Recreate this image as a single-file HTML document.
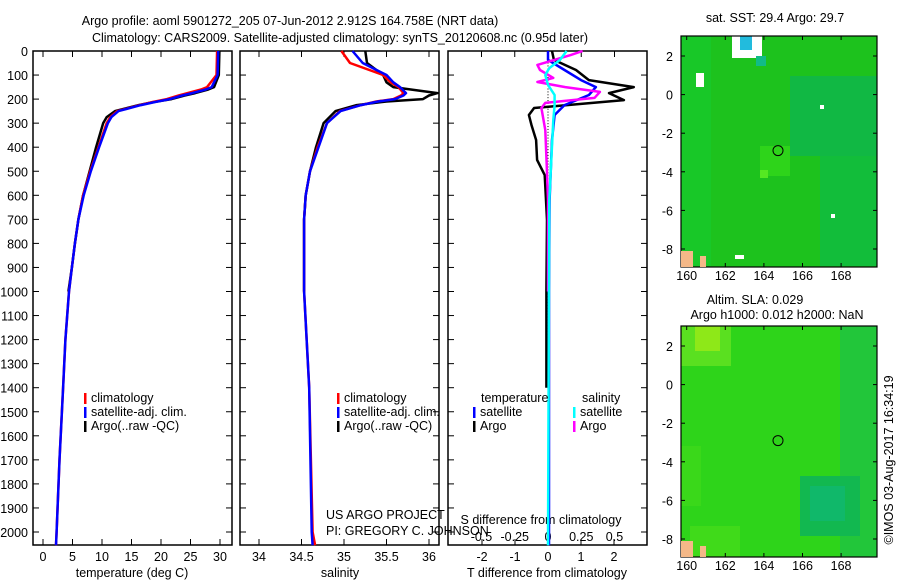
<!DOCTYPE html>
<html><head><meta charset="utf-8">
<style>
html,body{margin:0;padding:0;background:#fff;}
svg{display:block;font-family:"Liberation Sans",sans-serif;}
text{font-size:12.5px;fill:#000;}
</style></head>
<body>
<svg id="fig" width="900" height="580" viewBox="0 0 900 580"></svg>
<script>
// ---- data ----
const tDepth=[0,100,150,160,175,185,200,212,225,250,275,300,400,500,600,700,800,900,1000,1200,1400,1700,2000,2055];
const tClim=[29.5,29.4,27.8,26.8,24.5,23.0,21,18.6,16.4,12.6,11.4,10.8,9.4,8.0,6.8,6.0,5.4,4.9,4.4,3.8,3.4,2.8,2.3,2.2];
const tSat=[29.7,29.6,28.6,27.6,25.3,23.6,21.5,19.0,16.6,12.8,11.6,11.0,9.5,8.1,6.9,6.0,5.4,4.9,4.4,3.8,3.4,2.8,2.3,2.2];
const tArgo=[29.9,29.8,29.0,28.0,25.8,24.0,21.8,18.8,16.2,12.2,10.8,10.2,9.0,7.9,6.8,6.0,5.4,4.9,4.3];
const sDepth=[0,50,100,130,150,175,185,200,210,225,250,300,400,500,600,700,1000,1400,2000,2055];
const sClim=[34.97,35.07,35.46,35.55,35.64,35.7,35.67,35.58,35.38,35.2,34.95,34.8,34.69,34.6,34.55,34.53,34.53,34.59,34.63,34.66];
const sSat=[35.1,35.22,35.5,35.58,35.66,35.73,35.7,35.6,35.4,35.2,34.96,34.8,34.7,34.6,34.55,34.53,34.53,34.59,34.62,34.63];
const sArgo=[35.25,35.27,35.46,35.5,35.58,36.1,36.0,35.93,35.5,35.15,34.9,34.76,34.67,34.6,34.55,34.53,34.53];
const dDepthTA=[0,37,79,121,150,175,204,237,266,308,370,453,516,620,703,1000,1400];
const dTArgo=[0.12,0.18,0.85,1.24,2.6,1.85,2.3,-0.42,-0.58,-0.5,-0.36,-0.33,-0.1,-0.06,-0.03,-0.05,-0.05];
const dDepthTS=[0,37,79,121,150,183,225,266,370,620,1000,2055];
const dTSat=[0,0,0.5,1.0,1.45,1.24,0.5,0.2,0.12,0.05,0.03,0.03];
const dDepthSA=[0,17,58,79,112,129,150,170,195,216,237,329,474,620,1000];
const dSArgo=[0.26,0.17,-0.08,-0.06,0.04,-0.08,0.13,0.39,0.35,-0.02,-0.05,-0.02,-0.01,0,0];
const dDepthSS=[0,37,71,100,141,183,225,287,620,2055];
const dSSat=[0.14,0.09,0.01,-0.02,0,0.05,0.05,0.04,0.01,0];
const depthTicks=[0,100,200,300,400,500,600,700,800,900,1000,1100,1200,1300,1400,1500,1600,1700,1800,1900,2000];
const tTicks=[0,5,10,15,20,25,30];
const sTicks=[34,34.5,35,35.5,36];
const dTTicks=[-2,-1,0,1,2];
const dSTicks=[-0.5,-0.25,0,0.25,0.5];
const latTicks=[2,0,-2,-4,-6,-8];
const lonTicks=[160,162,164,166,168];

const NS='http://www.w3.org/2000/svg';
const svg=document.getElementById('fig');
function el(tag,attrs,parent){const e=document.createElementNS(NS,tag);for(const k in attrs)e.setAttribute(k,attrs[k]);(parent||svg).appendChild(e);return e;}
function txt(x,y,s,anchor,parent){const t=el('text',{x:x,y:y,'text-anchor':anchor||'start'},parent);t.textContent=s;return t;}

const Y=d=>51+d*0.2405;
const XT=v=>43+v*5.9;
const XS=v=>259+(v-34)*85;
const XDT=v=>548+v*33;
const XDS=v=>548+v*133;
const topY=51,botY=545;

txt(290,25,'Argo profile: aoml 5901272_205 07-Jun-2012 2.912S 164.758E (NRT data)','middle');
txt(340,42,'Climatology: CARS2009. Satellite-adjusted climatology: synTS_20120608.nc (0.95d later)','middle');

function panel(x0,x1,name){
  const g=el('g',{});
  
  
  el('rect',{x:x0,y:topY,width:x1-x0,height:botY-topY,fill:'none',stroke:'#000','stroke-width':1.5},g);
  depthTicks.forEach(d=>{el('line',{x1:x0,x2:x0+6,y1:Y(d),y2:Y(d),stroke:'#000'},g);el('line',{x1:x1-6,x2:x1,y1:Y(d),y2:Y(d),stroke:'#000'},g);});
  return g;
}
function xticks(g,ticks,f,labelY){
  ticks.forEach(v=>{const x=f(v);el('line',{x1:x,x2:x,y1:botY-6,y2:botY,stroke:'#000'},g);el('line',{x1:x,x2:x,y1:topY,y2:topY+6,stroke:'#000'},g);
    const t=txt(x,labelY,String(v),'middle',g);});
}
function line(g,xs,ds,fx,color,name,w){
  const pts=xs.map((v,i)=>fx(v).toFixed(1)+','+Y(ds[i]).toFixed(1)).join(' ');
  const p=el('polyline',{points:pts,fill:'none',stroke:color,'stroke-width':w||2.5,'stroke-linejoin':'round'},g);
  
  
}
function legend(g,x,y,items){
  items.forEach((it,i)=>{el('rect',{x:x,y:y+i*14-9,width:2.5,height:11,fill:it[0]},g);const t=txt(x+7,y+i*14,it[1],'start',g);});
}

const gy=el('g',{});
depthTicks.forEach(d=>{txt(28,Y(d)+5,String(d),'end',gy);});

const p1=panel(33,232,'temperature-panel');
xticks(p1,tTicks,XT,561);
txt(132,577,'temperature (deg C)','middle',p1);
line(p1,tArgo,tDepth.slice(0,tArgo.length),XT,'#000','argo-temperature',2.5);
line(p1,tClim,tDepth,XT,'#f00','clim-temperature',2.5);
line(p1,tSat,tDepth,XT,'#00f','sat-temperature',2.5);
legend(p1,84,402,[['#f00','climatology'],['#00f','satellite-adj. clim.'],['#000','Argo(..raw -QC)']]);

const p2=panel(240,439,'salinity-panel');
xticks(p2,sTicks,XS,561);
txt(340,577,'salinity','middle',p2);
line(p2,sArgo,sDepth.slice(0,sArgo.length),XS,'#000','argo-salinity',2.5);
line(p2,sClim,sDepth,XS,'#f00','clim-salinity',2.5);
line(p2,sSat,sDepth,XS,'#00f','sat-salinity',2.5);
legend(p2,337,402,[['#f00','climatology'],['#00f','satellite-adj. clim.'],['#000','Argo(..raw -QC)']]);
txt(326,519,'US ARGO PROJECT','start',p2);
txt(326,535,'PI: GREGORY C. JOHNSON','start',p2);

const p3=panel(448,647,'difference-panel');
for(let d=0;d<=2055;d+=12){el('rect',{x:547.5,y:Y(d),width:1,height:1,fill:'#000'},p3);}
dTTicks.forEach(v=>{const x=XDT(v);el('line',{x1:x,x2:x,y1:botY-6,y2:botY,stroke:'#000'},p3);txt(x,561,String(v),'middle',p3);});
dSTicks.forEach(v=>{const x=XDS(v);el('line',{x1:x,x2:x,y1:topY,y2:topY+6,stroke:'#000'},p3);txt(x,541,String(v),'middle',p3);});
txt(541,524,'S difference from climatology','middle',p3);
txt(547,577,'T difference from climatology','middle',p3);
line(p3,dTArgo,dDepthTA,XDT,'#000','argo-t-diff',2.5);
line(p3,dTSat,dDepthTS,XDT,'#00f','sat-t-diff',2.5);
line(p3,dSArgo,dDepthSA,XDS,'#f0f','argo-s-diff',2.5);
line(p3,dSSat,dDepthSS,XDS,'#0ff','sat-s-diff',2.5);
txt(481,402,'temperature','start',p3);
txt(582,402,'salinity','start',p3);
legend(p3,473,416,[['#00f','satellite'],['#000','Argo']]);
legend(p3,573,416,[['#0ff','satellite'],['#f0f','Argo']]);

const LX=lon=>686.7+(lon-160)*19.3;
function map(y0,name,base,patches,ty){
  const g=el('g',{});
  const LY=lat=>y0+20+(2-lat)*19.3;
  el('rect',{x:681,y:y0,width:196,height:231,fill:base},g);
  patches.forEach(p=>el('rect',{x:p[0],y:y0+p[1],width:p[2],height:p[3],fill:p[4]},g));
  el('rect',{x:681,y:y0,width:196,height:231,fill:'none',stroke:'#000','stroke-width':1.2},g);
  latTicks.forEach(l=>{const y=LY(l);el('line',{x1:681,x2:685,y1:y,y2:y,stroke:'#000'},g);el('line',{x1:873,x2:877,y1:y,y2:y,stroke:'#000'},g);txt(673,y+5,String(l),'end',g);});
  lonTicks.forEach(l=>{const x=LX(l);el('line',{x1:x,x2:x,y1:y0,y2:y0+4,stroke:'#000'},g);el('line',{x1:x,x2:x,y1:y0+227,y2:y0+231,stroke:'#000'},g);txt(x,ty,String(l),'middle',g);});
  el('circle',{cx:778,cy:LY(-2.9),r:5,fill:'none',stroke:'#000','stroke-width':1},g);
  el('rect',{x:681,y:y0+215,width:12,height:16,fill:'#f4b888'},g);
  el('rect',{x:700,y:y0+220,width:6,height:11,fill:'#f4b888'},g);
  return g;
}
map(36,'sst-map','#1dc21d',[
  [681,0,30,230,'#18c828'],[790,40,87,80,'#11b844'],[820,120,57,110,'#12bd3a'],
  [732,0,30,22,'#fff'],[740,0,12,14,'#22bbdd'],[756,20,10,10,'#11bb88'],[696,37,8,14,'#fff'],
  [760,110,30,30,'#2ed41a'],[760,134,8,8,'#55e822'],
  [820,69,4,4,'#fff'],[831,178,4,4,'#fff'],[735,219,9,4,'#fff']],280);
txt(775,22,'sat. SST: 29.4 Argo: 29.7','middle');
map(326,'sla-map','#2ed41a',[
  [681,0,50,40,'#5ae020'],[695,0,25,25,'#8ee818'],[840,0,37,231,'#22c63a'],[800,150,60,60,'#12b850'],[810,160,35,35,'#10b86a'],
  [681,120,20,60,'#3ad81a'],[690,200,50,31,'#40da1a']],570);
txt(755,304,'Altim. SLA: 0.029','middle');
txt(777,319,'Argo h1000: 0.012 h2000: NaN','middle');
const cr=txt(0,0,'©IMOS 03-Aug-2017 16:34:19','middle');
cr.setAttribute('transform','translate(893,460) rotate(-90)');

</script>
</body></html>
